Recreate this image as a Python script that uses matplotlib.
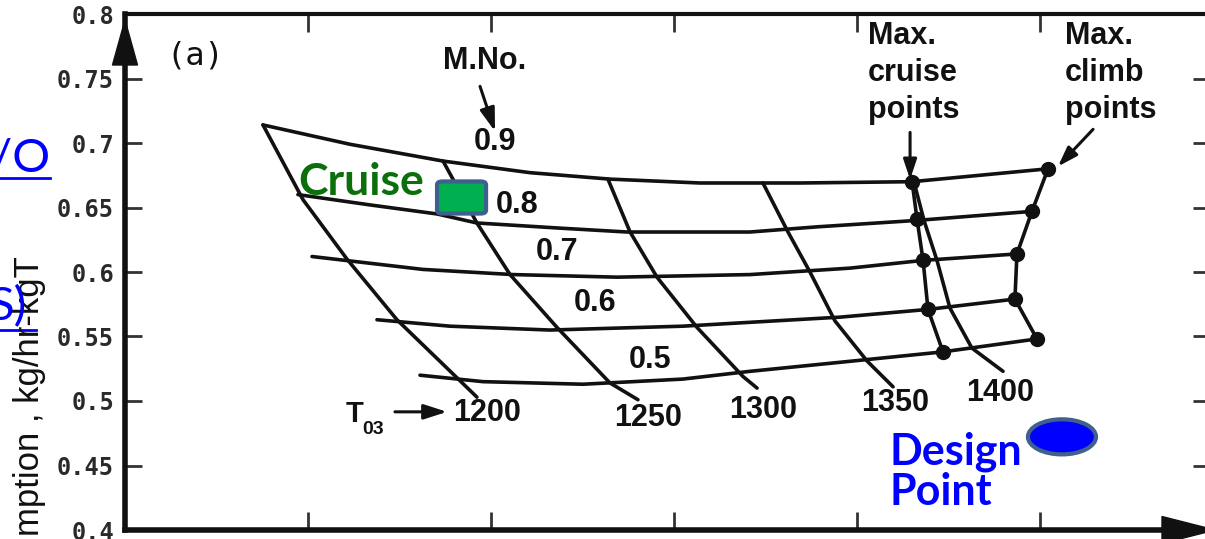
import matplotlib
matplotlib.use("Agg")
import matplotlib.pyplot as plt
from matplotlib.patches import FancyBboxPatch, Ellipse, Polygon
from matplotlib.lines import Line2D

# ---------------- data (x: arbitrary axis units, one unit per tick; y: SFC kg/hr-kgT)
mach_labels = ["0.9", "0.8", "0.7", "0.6", "0.5"]
m09_x = [0.754, 1.230, 1.738, 2.213, 2.650, 3.142, 3.689, 4.301, 5.044]
m09_y = [0.714, 0.699, 0.686, 0.677, 0.672, 0.669, 0.669, 0.670, 0.680]
m08_x = [0.945, 1.339, 1.705, 1.923, 2.377, 2.743, 3.415, 3.781, 4.328, 4.956]
m08_y = [0.660, 0.652, 0.645, 0.638, 0.634, 0.631, 0.631, 0.635, 0.640, 0.647]
m07_x = [1.022, 1.628, 2.120, 2.689, 3.415, 3.962, 4.361, 4.874]
m07_y = [0.612, 0.602, 0.598, 0.596, 0.598, 0.603, 0.609, 0.614]
m06_x = [1.377, 1.776, 2.322, 3.049, 3.415, 3.907, 4.388, 4.863]
m06_y = [0.563, 0.558, 0.555, 0.558, 0.561, 0.565, 0.571, 0.579]
m05_x = [1.612, 1.956, 2.503, 3.049, 3.415, 3.907, 4.464, 4.978]
m05_y = [0.520, 0.515, 0.513, 0.517, 0.523, 0.530, 0.538, 0.548]

t03_labels = ["1200", "1250", "1300", "1350", "1400"]
t1200_x = [0.754, 0.973, 1.213, 1.486, 1.814, 1.923]
t1200_y = [0.714, 0.656, 0.610, 0.563, 0.518, 0.503]
t1250_x = [1.738, 1.923, 2.104, 2.361, 2.650, 2.803]
t1250_y = [0.686, 0.638, 0.598, 0.557, 0.514, 0.501]
t1300_x = [2.639, 2.760, 2.907, 3.126, 3.377, 3.454]
t1300_y = [0.672, 0.631, 0.596, 0.557, 0.519, 0.510]
t1350_x = [3.486, 3.623, 3.743, 3.880, 4.055, 4.197]
t1350_y = [0.669, 0.631, 0.600, 0.562, 0.531, 0.511]
t1400_x = [4.311, 4.366, 4.437, 4.508, 4.628, 4.798]
t1400_y = [0.670, 0.640, 0.609, 0.572, 0.541, 0.523]

cruise_pts_x = [4.301, 4.328, 4.361, 4.388, 4.470]
cruise_pts_y = [0.670, 0.641, 0.609, 0.571, 0.538]
climb_pts_x = [5.044, 4.956, 4.874, 4.863, 4.984]
climb_pts_y = [0.680, 0.647, 0.614, 0.579, 0.548]

ytick_vals = [0.4, 0.45, 0.5, 0.55, 0.6, 0.65, 0.7, 0.75, 0.8]
ytick_labels = ["0.4", "0.45", "0.5", "0.55", "0.6", "0.65", "0.7", "0.75", "0.8"]
xtick_vals = [1, 2, 3, 4, 5]

# label anchor positions (data units)
mach_label_x = [2.022, 2.142, 2.361, 2.568, 2.869]
mach_label_y = [0.7005, 0.6523, 0.6158, 0.5762, 0.5320]
t03_label_x = [1.978, 2.858, 3.486, 4.208, 4.781]
t03_label_y = [0.4908, 0.4870, 0.4932, 0.4986, 0.5064]

cruise_box = (1.705, 0.6453, 0.268, 0.0249)   # x0, y0, w, h
design_pt = (5.120, 0.4722, 0.372, 0.0272)    # xc, yc, w, h

# ---------------- figure
W, H = 1205, 539
fig = plt.figure(figsize=(W / 100, H / 100), dpi=100)
ax = fig.add_axes([125 / W, 9 / H, 1085 / W, 516 / H])
ax.set_xlim(0, 1085 / 183)
ax.set_ylim(0.4, 0.8)

INK = "#111111"
LW = 2.6
SANS = "Liberation Sans"

mach_x = [m09_x, m08_x, m07_x, m06_x, m05_x]
mach_y = [m09_y, m08_y, m07_y, m06_y, m05_y]
for xs, ys in zip(mach_x, mach_y):
    ax.plot(xs, ys, color=INK, lw=LW, solid_capstyle="round", solid_joinstyle="round")

t_x = [t1200_x, t1250_x, t1300_x, t1350_x, t1400_x]
t_y = [t1200_y, t1250_y, t1300_y, t1350_y, t1400_y]
for xs, ys in zip(t_x, t_y):
    ax.plot(xs, ys, color=INK, lw=LW, solid_capstyle="round", solid_joinstyle="round")

ax.plot(cruise_pts_x, cruise_pts_y, color=INK, lw=LW, marker="o", ms=10)
ax.plot(climb_pts_x, climb_pts_y, color=INK, lw=LW, marker="o", ms=10)

# spines / ticks
for s, w in [("left", 4.0), ("bottom", 4.0), ("top", 3.0), ("right", 3.0)]:
    ax.spines[s].set_linewidth(w)
    ax.spines[s].set_color(INK)
ax.set_yticks(ytick_vals)
ax.set_yticklabels(ytick_labels)
ax.set_xticks(xtick_vals)
ax.tick_params(axis="y", direction="in", length=12, width=2, colors="#333333",
               left=True, right=True, labelsize=17, pad=8)
ax.tick_params(axis="x", direction="in", length=13, width=2, colors="#333333",
               bottom=True, top=True, labelbottom=False)
for lab in ax.get_yticklabels():
    lab.set_family("DejaVu Sans Mono")
    lab.set_fontweight("bold")
    lab.set_color("#2a2a2a")

# axis arrows
aw, ah = 1085.0, 516.0
ax.add_patch(Polygon([(-12.5 / aw, 465 / ah), (12.5 / aw, 465 / ah), (0, 510 / ah)],
                     closed=True, transform=ax.transAxes, color=INK, clip_on=False))
ax.add_patch(Polygon([(1037 / aw, -13.5 / ah), (1037 / aw, 13.5 / ah), (1090 / aw, 0)],
                     closed=True, transform=ax.transAxes, color=INK, clip_on=False))

# labels on curves
for t, x, y in zip(mach_labels, mach_label_x, mach_label_y):
    ax.text(x, y, t, ha="center", va="center", fontsize=22, family=SANS,
            fontweight="bold", color=INK)
for t, x, y in zip(t03_labels, t03_label_x, t03_label_y):
    ax.text(x, y, t, ha="center", va="center", fontsize=22, family=SANS,
            fontweight="bold", color=INK)

ax.text(1.967, 0.7634, "M.No.", ha="center", va="center", fontsize=22,
        family=SANS, fontweight="bold", color=INK)
ax.annotate("", xy=(2.022, 0.7090), xytext=(1.940, 0.7439),
            arrowprops=dict(arrowstyle="-|>,head_length=1.4,head_width=0.45",
                            color=INK, lw=2.2, shrinkA=0, shrinkB=0))

ax.text(1.208, 0.4835, "T", ha="left", va="baseline", fontsize=21,
        family=SANS, fontweight="bold", color=INK)
ax.text(1.295, 0.4742, "03", ha="left", va="baseline", fontsize=14,
        family=SANS, fontweight="bold", color=INK)
ax.annotate("", xy=(1.760, 0.4916), xytext=(1.475, 0.4916),
            arrowprops=dict(arrowstyle="-|>,head_length=1.4,head_width=0.45",
                            color=INK, lw=2.2, shrinkA=0, shrinkB=0))

ax.text(0.383, 0.7672, "(a)", ha="center", va="center", fontsize=23,
        family="DejaVu Sans Mono", color=INK)

ax.text(4.060, 0.7945, "Max.\ncruise\npoints", ha="left", va="top", fontsize=22,
        family=SANS, fontweight="bold", color=INK, linespacing=1.3)
ax.text(5.137, 0.7945, "Max.\nclimb\npoints", ha="left", va="top", fontsize=22,
        family=SANS, fontweight="bold", color=INK, linespacing=1.3)
ax.annotate("", xy=(4.290, 0.6717), xytext=(4.290, 0.7082),
            arrowprops=dict(arrowstyle="-|>,head_length=1.2,head_width=0.4",
                            color=INK, lw=2.2, shrinkA=0, shrinkB=0))
ax.annotate("", xy=(5.098, 0.6818), xytext=(5.290, 0.7106),
            arrowprops=dict(arrowstyle="-|>,head_length=1.2,head_width=0.4",
                            color=INK, lw=2.2, shrinkA=0, shrinkB=0))

# slide overlays
bx, by, bw, bh = cruise_box
ax.add_patch(FancyBboxPatch((bx, by), bw, bh,
                            boxstyle="round,pad=0,rounding_size=0.03",
                            mutation_aspect=0.09,
                            facecolor="#00B050", edgecolor="#3F5F8C", lw=3, zorder=5))
ax.text(0.945, 0.6600, "Cruise", ha="left", va="baseline", fontsize=32,
        family="Lato", fontweight="bold", color="#0B700B", zorder=6)

ex, ey, ew, eh = design_pt
ax.add_patch(Ellipse((ex, ey), ew, eh, facecolor="#0000FF", edgecolor="#41608C",
                     lw=3, zorder=5))
ax.text(4.180, 0.4505, "Design", ha="left", va="baseline", fontsize=31,
        family="Lato", fontweight="bold", color="#0000FF")
ax.text(4.180, 0.4194, "Point", ha="left", va="baseline", fontsize=31,
        family="Lato", fontweight="bold", color="#0000FF")

# y-axis label (cut off by the figure edge as in the slide)
fig.text(30 / W, 1 - 256 / H, "Specific fuel consumption , kg/hr-kgT", rotation=90,
         ha="center", va="top", fontsize=25, family=SANS, color=INK)

# partial hyperlink text on the left edge of the slide
fig.text(50 / W, 1 - 172 / H, "W/O", ha="right", va="baseline", fontsize=34,
         family="Lato", color="#0000FF")
fig.add_artist(Line2D([0, 50 / W], [1 - 178 / H, 1 - 178 / H], color="#0000FF", lw=2))
fig.text(27 / W, 1 - 320 / H, "S)", ha="right", va="baseline", fontsize=34,
         family="Lato", color="#0000FF")
fig.add_artist(Line2D([0, 36 / W], [1 - 330 / H, 1 - 330 / H], color="#0000FF", lw=2))

fig.savefig("out.png", dpi=100)
